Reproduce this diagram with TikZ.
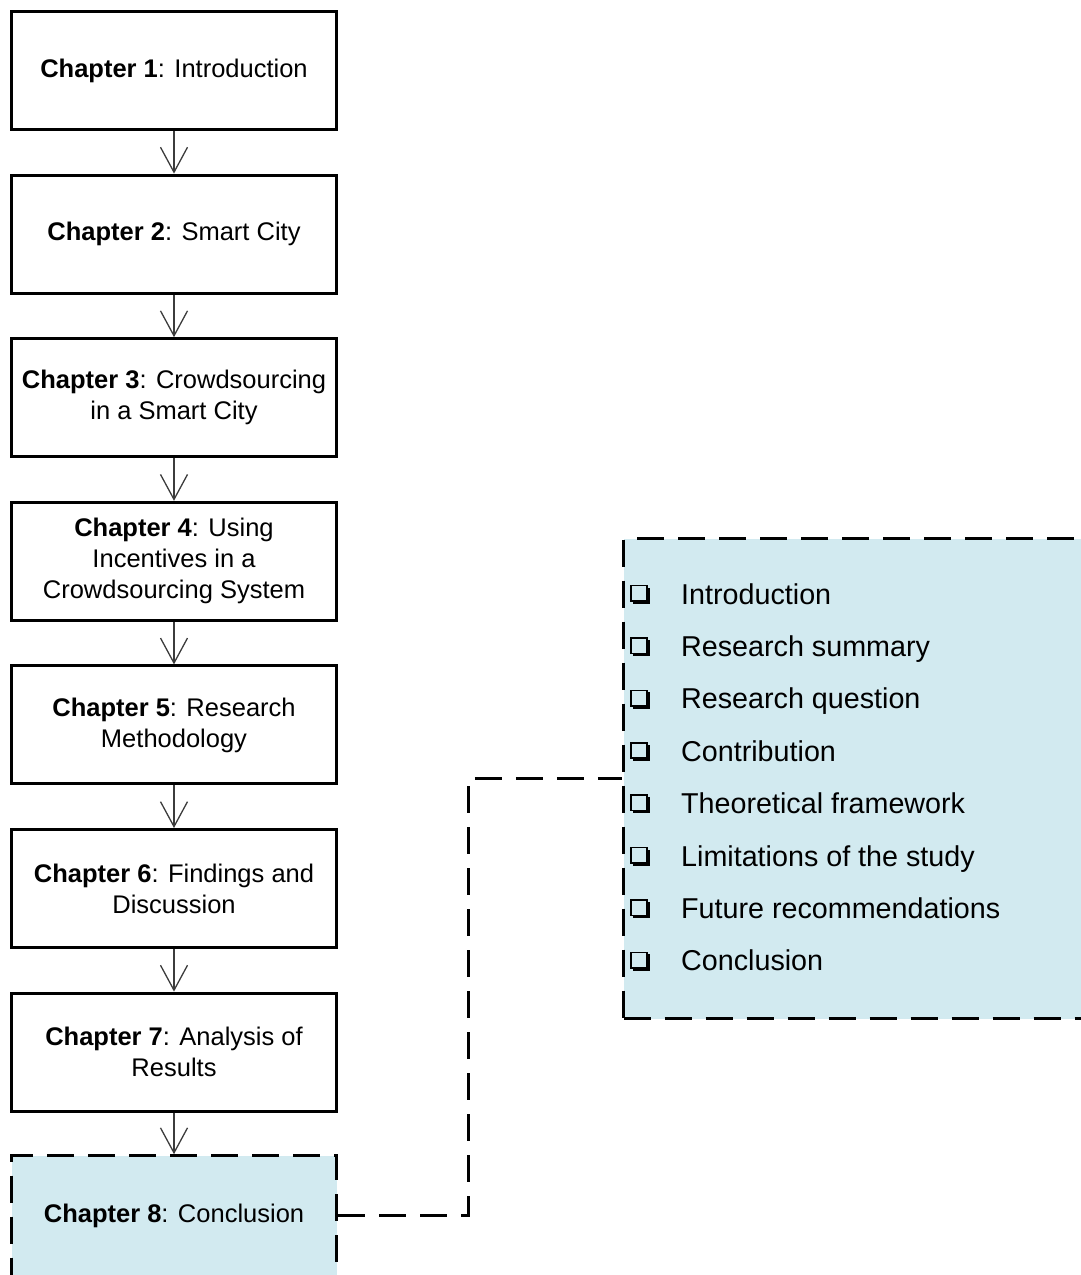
\documentclass[tikz,border=0pt]{standalone}
\usepackage{fontspec}
\setmainfont{Liberation Sans}
\usetikzlibrary{arrows.meta}
\definecolor{panelblue}{RGB}{210,234,240}
\definecolor{arrowgray}{RGB}{60,60,60}
\definecolor{inkblack}{RGB}{0,0,0}

\begin{document}
\begin{tikzpicture}[x=1pt,y=-1pt,
  chapbox/.style={draw=inkblack, line width=3pt, minimum width=325pt, minimum height=118pt,
    align=center, inner sep=0pt, font=\fontsize{25.5}{31}\selectfont},
  endbox/.style={chapbox, fill=panelblue, dash pattern=on 27pt off 14pt},
  chaptext/.style={align=center, inner sep=0pt, font=\fontsize{25.5}{31}\selectfont},
  flow/.style={draw=arrowgray, line width=1.4pt,
    -{Straight Barb[length=25pt,width=27pt,line width=1.3pt]}},
  linkline/.style={draw=inkblack, line width=3pt, dash pattern=on 27pt off 14pt},
  itemtext/.style={anchor=base west, inner sep=0pt, font=\fontsize{28.7}{34}\selectfont},
  chk/.pic={
    \draw[line width=1.6pt] (-9,-8.5) rectangle (7,7);
    \fill (-7,7) rectangle (9.5,9.7);
    \fill (7,-6.5) rectangle (9.7,9.7);
  }]

\useasboundingbox (0,0) rectangle (1081,1275);
\clip (0,0) rectangle (1081,1275);

% chapter boxes
\node[chapbox] (c1) at (174,70.5)  {\textbf{Chapter 1}: Introduction};
\node[chapbox] (c2) at (174,234.1) {\textbf{Chapter 2}: Smart City};
\node[chapbox] (c3) at (174,397.7) {\textbf{Chapter 3}: Crowdsourcing\\in a Smart City};
\node[chapbox] (c4) at (174,561.3) {\textbf{Chapter 4}: Using\\Incentives in a\\Crowdsourcing System};
\node[chapbox] (c5) at (174,724.9) {\textbf{Chapter 5}: Research\\Methodology};
\node[chapbox] (c6) at (174,888.5) {\textbf{Chapter 6}: Findings and\\Discussion};
\node[chapbox] (c7) at (174,1052.1) {\textbf{Chapter 7}: Analysis of\\Results};
% last chapter box runs past the lower edge
\node[endbox, minimum height=150pt, anchor=north] (c8) at (174,1154.2) {};
\node[chaptext] (c8text) at (174,1215.7) {\textbf{Chapter 8}: Conclusion};

% flow arrows
\foreach \a/\b in {c1/c2,c2/c3,c3/c4,c4/c5,c5/c6,c6/c7,c7/c8}
  \draw[flow] (\a.south) -- (\b.north);

% detail panel for the last chapter
\node[draw=inkblack, line width=3pt, dash pattern=on 27pt off 14pt, fill=panelblue,
  anchor=north west, minimum width=600pt, minimum height=480pt, inner sep=0pt]
  (panel) at (622,537) {};

\draw[linkline] (c8text -| c8.east) -- ++(130,0) |- (panel.west);

% checklist items
\foreach \t [count=\i from 0] in {Introduction,Research summary,Research question,
    Contribution,Theoretical framework,Limitations of the study,
    Future recommendations,Conclusion}{
  \pgfmathsetmacro{\yy}{594+52.4*\i}
  \pic at (640,\yy) {chk};
  \node[itemtext] (item\i) at (681,\yy+10) {\t};
}
\end{tikzpicture}
\end{document}
